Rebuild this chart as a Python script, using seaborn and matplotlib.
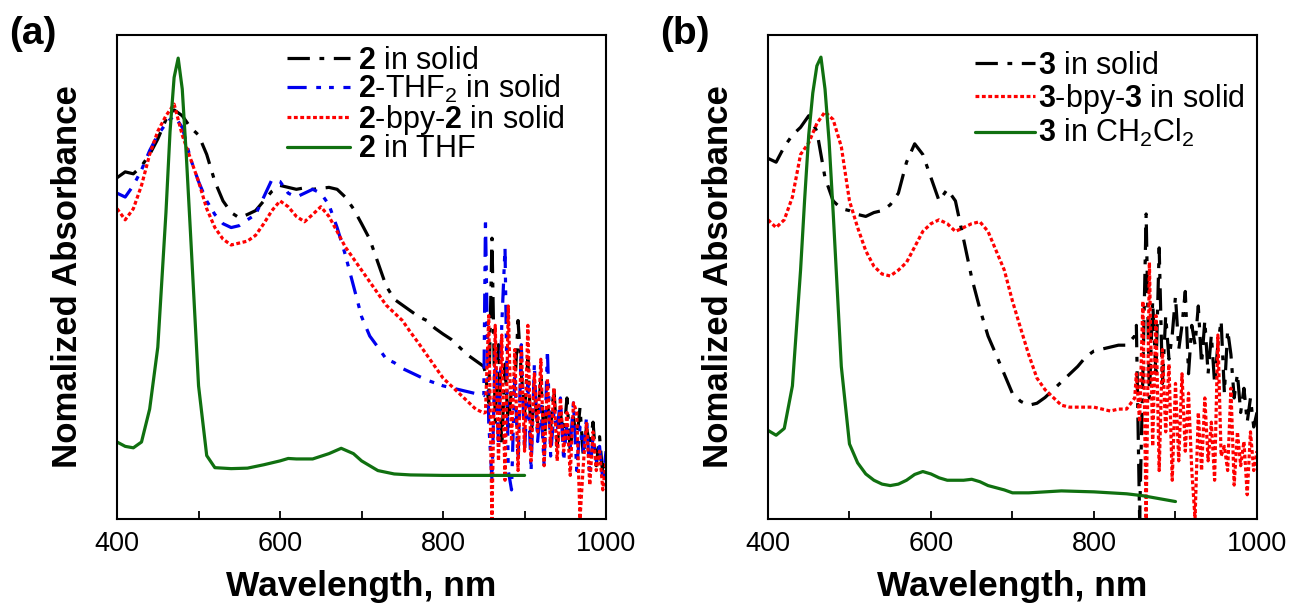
import numpy as np
import pandas as pd
import seaborn as sns
import matplotlib.pyplot as plt
from matplotlib.ticker import MultipleLocator, NullLocator

sns.set_theme(style='white')
plt.rcParams['font.family'] = ['Liberation Sans', 'DejaVu Sans']
plt.rcParams['mathtext.fontset'] = 'custom'
plt.rcParams['mathtext.rm'] = 'Liberation Sans'
plt.rcParams['mathtext.bf'] = 'Liberation Sans:bold'
plt.rcParams['text.color'] = 'black'
plt.rcParams['axes.labelcolor'] = 'black'
plt.rcParams['xtick.color'] = 'black'

# wavelength grids (nm)
wl_grid = list(range(400, 851, 10))
wl_noise = list(range(852, 1001, 4))

# ---- panel (a) ----
a_solid = [0.705, 0.717, 0.713, 0.729, 0.753, 0.785, 0.825, 0.845, 0.833, 0.809,
           0.793, 0.753, 0.697, 0.657, 0.633, 0.622, 0.629, 0.637, 0.657, 0.677,
           0.689, 0.685, 0.681, 0.684, 0.681, 0.683, 0.685, 0.681, 0.665, 0.641,
           0.610, 0.578, 0.530, 0.482, 0.454, 0.442, 0.430, 0.418, 0.410, 0.394,
           0.382, 0.371, 0.355, 0.339, 0.327, 0.315]
a_solid_noise = [0.30, 0.24, 0.58, 0.20, 0.36, 0.15, 0.32, 0.19, 0.27, 0.27,
                 0.41, 0.30, 0.22, 0.33, 0.17, 0.26, 0.20, 0.29, 0.16, 0.24,
                 0.19, 0.27, 0.15, 0.22, 0.17, 0.25, 0.14, 0.21, 0.16, 0.23,
                 0.13, 0.19, 0.15, 0.20, 0.11, 0.17, 0.09, 0.13]
a_thf2 = [0.673, 0.665, 0.689, 0.721, 0.761, 0.793, 0.817, 0.833, 0.809, 0.745,
          0.697, 0.657, 0.629, 0.610, 0.602, 0.606, 0.618, 0.629, 0.665, 0.701,
          0.697, 0.673, 0.665, 0.673, 0.681, 0.673, 0.649, 0.602, 0.546, 0.482,
          0.418, 0.378, 0.355, 0.331, 0.323, 0.311, 0.303, 0.295, 0.287, 0.281,
          0.275, 0.271, 0.267, 0.263, 0.259, 0.255]
a_thf2_noise = [0.62, 0.20, 0.08, 0.35, 0.15, 0.40, 0.56, 0.10, 0.06, 0.30,
                0.12, 0.36, 0.14, 0.28, 0.10, 0.32, 0.16, 0.24, 0.11, 0.35,
                0.13, 0.22, 0.18, 0.25, 0.12, 0.20, 0.15, 0.24, 0.10, 0.19,
                0.14, 0.21, 0.09, 0.17, 0.12, 0.15, 0.08, 0.14]
a_bpy = [0.641, 0.618, 0.641, 0.689, 0.753, 0.801, 0.833, 0.857, 0.793, 0.745,
         0.697, 0.641, 0.602, 0.578, 0.566, 0.570, 0.574, 0.586, 0.610, 0.637,
         0.657, 0.645, 0.625, 0.614, 0.629, 0.645, 0.625, 0.594, 0.562, 0.538,
         0.514, 0.490, 0.466, 0.442, 0.426, 0.410, 0.386, 0.363, 0.339, 0.315,
         0.291, 0.275, 0.259, 0.243, 0.227, 0.219]
a_bpy_noise = [0.22, 0.42, 0.00, 0.40, 0.12, 0.38, 0.08, 0.44, 0.16, 0.35,
               0.10, 0.36, 0.14, 0.40, 0.12, 0.30, 0.18, 0.33, 0.11, 0.29,
               0.15, 0.27, 0.12, 0.25, 0.14, 0.22, 0.09, 0.24, 0.22, 0.00,
               0.11, 0.20, 0.07, 0.18, 0.10, 0.14, 0.06, 0.12]
a_sol_wl = [400, 410, 420, 430, 440, 450, 460, 465, 470, 475, 480, 485, 490, 500,
            510, 520, 540, 560, 580, 600, 610, 620, 640, 660, 675, 690, 700, 720,
            740, 760, 800, 850, 900]
a_sol = [0.159, 0.150, 0.147, 0.159, 0.227, 0.355, 0.633, 0.80, 0.912, 0.952,
         0.888, 0.75, 0.594, 0.275, 0.131, 0.106, 0.104, 0.105, 0.112, 0.120,
         0.125, 0.124, 0.124, 0.135, 0.146, 0.135, 0.120, 0.100, 0.093, 0.091,
         0.090, 0.090, 0.090]

# ---- panel (b) ----
b_solid = [0.745, 0.737, 0.769, 0.793, 0.809, 0.833, 0.801, 0.705, 0.657, 0.641,
           0.637, 0.629, 0.625, 0.633, 0.637, 0.649, 0.673, 0.737, 0.775, 0.753,
           0.705, 0.657, 0.681, 0.657, 0.578, 0.498, 0.434, 0.378, 0.339, 0.299,
           0.259, 0.243, 0.235, 0.239, 0.251, 0.267, 0.283, 0.299, 0.315, 0.335,
           0.347, 0.351, 0.355, 0.359, 0.359, 0.378]
b_solid_noise = [0.40, 0.00, 0.30, 0.63, 0.25, 0.45, 0.30, 0.56, 0.28, 0.42,
                 0.33, 0.38, 0.46, 0.35, 0.40, 0.47, 0.30, 0.40, 0.36, 0.44,
                 0.32, 0.41, 0.30, 0.38, 0.28, 0.36, 0.41, 0.26, 0.39, 0.34,
                 0.25, 0.30, 0.22, 0.27, 0.20, 0.25, 0.19, 0.22]
b_bpy = [0.618, 0.602, 0.618, 0.665, 0.753, 0.777, 0.817, 0.841, 0.825, 0.769,
         0.657, 0.602, 0.554, 0.522, 0.506, 0.502, 0.514, 0.530, 0.562, 0.594,
         0.610, 0.618, 0.610, 0.594, 0.602, 0.610, 0.614, 0.594, 0.554, 0.514,
         0.450, 0.394, 0.339, 0.291, 0.267, 0.251, 0.235, 0.231, 0.231, 0.231,
         0.231, 0.227, 0.223, 0.227, 0.227, 0.250]
b_bpy_noise = [0.30, 0.20, 0.45, 0.00, 0.53, 0.15, 0.42, 0.10, 0.35, 0.18,
               0.32, 0.08, 0.28, 0.12, 0.30, 0.14, 0.26, 0.10, 0.00, 0.22,
               0.10, 0.25, 0.12, 0.20, 0.08, 0.38, 0.13, 0.15, 0.10, 0.27,
               0.07, 0.18, 0.11, 0.16, 0.05, 0.18, 0.10, 0.14]
b_sol_wl = [400, 410, 420, 430, 440, 445, 450, 455, 460, 465, 470, 475, 480, 490,
            500, 510, 520, 530, 540, 550, 560, 570, 580, 590, 600, 610, 620, 640,
            650, 660, 670, 690, 700, 720, 760, 800, 840, 860, 880, 900]
b_sol = [0.183, 0.173, 0.187, 0.275, 0.514, 0.66, 0.793, 0.88, 0.936, 0.954,
         0.888, 0.78, 0.633, 0.315, 0.155, 0.116, 0.093, 0.080, 0.072, 0.069,
         0.072, 0.080, 0.092, 0.098, 0.093, 0.085, 0.080, 0.080, 0.082, 0.077,
         0.069, 0.060, 0.054, 0.054, 0.058, 0.056, 0.052, 0.048, 0.042, 0.036]

dashdot = (0, (7, 3, 1.5, 3))
dashdotdot = (0, (6, 3, 1.5, 2.5, 1.5, 3))
dotted = (0, (1.2, 0.8))
lw = 2.3

fig = plt.figure(figsize=(12.92, 6.12), dpi=100)
ax_a = fig.add_axes([0.0906, 0.152, 0.3785, 0.791])
ax_b = fig.add_axes([0.5944, 0.152, 0.3785, 0.791])

def draw(ax, wl, y, color, ls, label):
    df = pd.DataFrame({'wl': wl, 'abs': y})
    sns.lineplot(data=df, x='wl', y='abs', ax=ax, color=color, linestyle=ls,
                 linewidth=lw, label=label, estimator=None, sort=False)

draw(ax_a, wl_grid + wl_noise, a_solid + a_solid_noise, 'black', dashdot,
     r'$\mathbf{2}$ in solid')
draw(ax_a, wl_grid + wl_noise, a_thf2 + a_thf2_noise, '#0000ee', dashdotdot,
     r'$\mathbf{2}$-THF$_2$ in solid')
draw(ax_a, wl_grid + wl_noise, a_bpy + a_bpy_noise, '#ff0000', dotted,
     r'$\mathbf{2}$-bpy-$\mathbf{2}$ in solid')
draw(ax_a, a_sol_wl, a_sol, '#107010', '-', r'$\mathbf{2}$ in THF')

draw(ax_b, wl_grid + wl_noise, b_solid + b_solid_noise, 'black', dashdot,
     r'$\mathbf{3}$ in solid')
draw(ax_b, wl_grid + wl_noise, b_bpy + b_bpy_noise, '#ff0000', dotted,
     r'$\mathbf{3}$-bpy-$\mathbf{3}$ in solid')
draw(ax_b, b_sol_wl, b_sol, '#107010', '-', r'$\mathbf{3}$ in CH$_2$Cl$_2$')

for ax, tag in [(ax_a, '(a)'), (ax_b, '(b)')]:
    ax.set_xlim(400, 1000)
    ax.set_ylim(0, 1)
    ax.xaxis.set_major_locator(MultipleLocator(200))
    ax.xaxis.set_minor_locator(MultipleLocator(100))
    ax.yaxis.set_major_locator(NullLocator())
    ax.tick_params(axis='x', which='both', direction='in', length=6, width=1.3,
                   bottom=True, labelsize=19.5, pad=9, colors='black')
    for sp in ax.spines.values():
        sp.set_color('black')
        sp.set_linewidth(1.5)
    ax.set_xlabel('Wavelength, nm', fontsize=25.5, fontweight='bold', labelpad=9)
    ax.set_ylabel('Nomalized Absorbance', fontsize=25, fontweight='bold', labelpad=24)
    ax.text(-0.22, 1.04, tag, transform=ax.transAxes, fontsize=28,
            fontweight='bold', va='top', ha='left')

ax_a.legend(loc='upper left', bbox_to_anchor=(0.348, 0.978), frameon=False,
            fontsize=22, handlelength=2.05, handletextpad=0.26, labelspacing=-0.08,
            borderaxespad=0, borderpad=0)
ax_b.legend(loc='upper left', bbox_to_anchor=(0.423, 0.967), frameon=False,
            fontsize=22, handlelength=1.96, handletextpad=0.12, labelspacing=0.04,
            borderaxespad=0, borderpad=0)

fig.savefig('out.png', dpi=100)
